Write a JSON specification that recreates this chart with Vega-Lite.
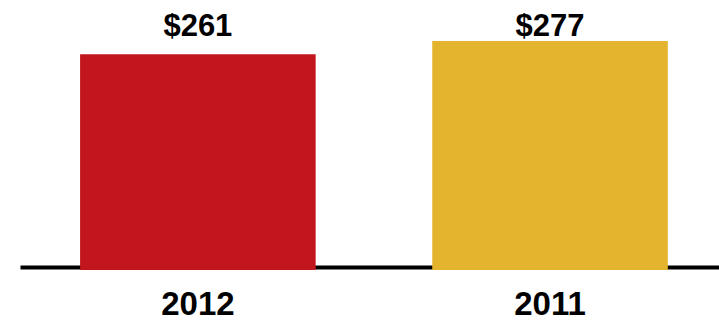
{
  "$schema": "https://vega.github.io/schema/vega-lite/v6.json",
  "width": 699,
  "height": 270,
  "autosize": {"type": "none"},
  "padding": {"left": 20, "top": 0, "right": 0, "bottom": 50},
  "background": "white",
  "config": {"view": {"stroke": null}, "font": "Liberation Sans"},
  "data": {"values": [
    {"year": "2012", "value": 261, "label": "$261"},
    {"year": "2011", "value": 277, "label": "$277"}
  ]},
  "encoding": {
    "x": {
      "field": "year", "type": "nominal", "sort": null,
      "scale": {"paddingInner": 0.331, "paddingOuter": 0.158, "align": 0.54},
      "axis": {
        "title": null, "labelAngle": 0, "ticks": false, "tickSize": 0,
        "domainColor": "black", "domainWidth": 4, "offset": -3,
        "labelFont": "Liberation Sans", "labelFontSize": 33, "labelFontWeight": "bold",
        "labelColor": "black", "labelBaseline": "alphabetic", "labelPadding": 47
      }
    }
  },
  "layer": [
    {
      "mark": {"type": "bar"},
      "encoding": {
        "y": {
          "field": "value", "type": "quantitative",
          "scale": {"domain": [0, 326.6], "nice": false, "zero": true},
          "axis": null
        },
        "color": {
          "field": "year", "type": "nominal",
          "scale": {"domain": ["2012", "2011"], "range": ["#C1161D", "#E5B42E"]},
          "legend": null
        }
      }
    },
    {
      "transform": [{"joinaggregate": [{"op": "max", "field": "value", "as": "maxValue"}]}],
      "mark": {"type": "text", "baseline": "alphabetic", "dy": -5, "fontSize": 31, "fontWeight": "bold", "font": "Liberation Sans", "color": "black"},
      "encoding": {
        "y": {"field": "maxValue", "type": "quantitative"},
        "text": {"field": "label"}
      }
    }
  ]
}
